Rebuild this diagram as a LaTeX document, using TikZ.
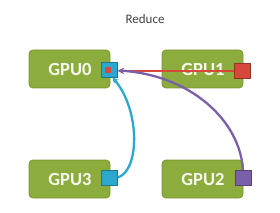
\documentclass[tikz,border=0pt]{standalone}
\usepackage{fontspec}
\setmainfont{Carlito}
\usetikzlibrary{arrows.meta}
\definecolor{gpugreen}{RGB}{140,172,62}
\definecolor{gpuedge}{RGB}{120,150,50}
\definecolor{cred}{RGB}{214,72,58}
\definecolor{cblue}{RGB}{44,168,208}
\definecolor{cpurple}{RGB}{122,96,168}
\tikzset{
  gpubox/.style={draw=gpuedge, fill=gpugreen, rounded corners=4pt, minimum width=81pt, minimum height=38pt, inner sep=0pt, line width=0.8pt},
  gputext/.style={text=white!92!gpugreen, font=\fontsize{18.5}{18.5}\selectfont\bfseries},
  port/.style={draw=#1!70!black, fill=#1, minimum width=16pt, minimum height=15pt, inner sep=0pt, line width=0.8pt},
  conn/.style={draw=#1, line width=2.3pt, -{Stealth[length=6pt,width=6pt]}},
}
\begin{document}
\begin{tikzpicture}[x=1pt,y=-1pt]
\useasboundingbox (0,0) rectangle (280,213);
\node[font=\fontsize{13}{13}\selectfont, text=black!75] (title) at (145,19) {Reduce};
\node[gpubox] (g0) at (69.5,69) {};
\node[gpubox] (g1) at (202.5,69) {};
\node[gpubox] (g3) at (69.5,179) {};
\node[gpubox] (g2) at (202.5,179) {};
\node[gputext, anchor=east] (t0) at (95,70) {GPU0};
\node[gputext, anchor=east] (t1) at (228,70) {GPU1};
\node[gputext, anchor=east] (t3) at (95,180) {GPU3};
\node[gputext, anchor=east] (t2) at (228,180) {GPU2};
\node[port=cblue] (p0) at (109.5,69.5) {};
\node[fill=cred, minimum size=6pt, inner sep=0pt] (p0in) at (108,70) {};
\node[port=cred] (p1) at (242,71) {};
\node[port=cblue] (p3) at (109.5,177.5) {};
\node[port=cpurple] (p2) at (243,178) {};
\draw[conn=cred] (p1.west) -- (p0.east |- p1.west);
\draw[conn=cpurple] (p2.north) .. controls (240,120) and (190,75) .. ([yshift=-1pt]p0.east);
\draw[conn=cblue] (p3.east) .. controls (140,170) and (140,110) .. ([xshift=3pt]p0.south);
\end{tikzpicture}
\end{document}
